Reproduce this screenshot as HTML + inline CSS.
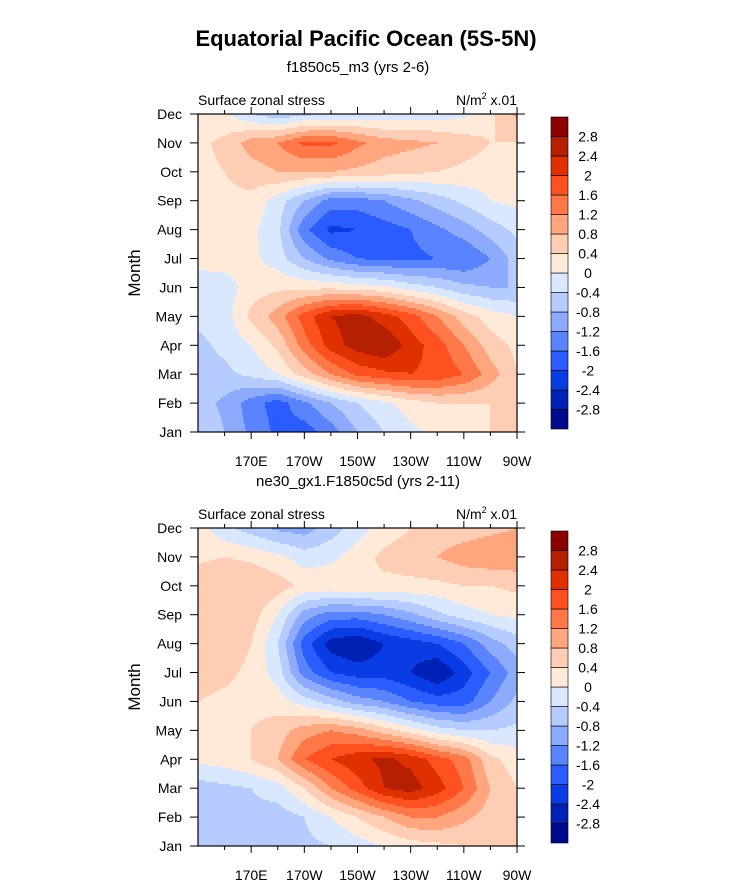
<!DOCTYPE html>
<html><head><meta charset="utf-8">
<style>
body{margin:0;background:#fff;font-family:"Liberation Sans",sans-serif;}
svg text{font-family:"Liberation Sans",sans-serif;fill:#000;}
</style></head>
<body>
<svg id="chart" width="733" height="890" viewBox="0 0 733 890" xmlns="http://www.w3.org/2000/svg">
<text x="366" y="46" text-anchor="middle" font-size="22" font-weight="bold">Equatorial Pacific Ocean (5S-5N)</text>
</svg>
<script>
const months=["Jan","Feb","Mar","Apr","May","Jun","Jul","Aug","Sep","Oct","Nov","Dec"];
const lons=[150,160,170,180,190,200,210,220,230,240,250,260,270];
const xTickLons=[170,190,210,230,250,270];
const xTickLabels=["170E","170W","150W","130W","110W","90W"];
const levels=[-2.8,-2.4,-2,-1.6,-1.2,-0.8,-0.4,0,0.4,0.8,1.2,1.6,2,2.4,2.8];
const levelLabels=["-2.8","-2.4","-2","-1.6","-1.2","-0.8","-0.4","0","0.4","0.8","1.2","1.6","2","2.4","2.8"];
const colors=["#000a8c","#0022b4","#0a3ce6","#2a5cff","#5a84ff","#8cabff","#b6cbff","#d9e8ff","#ffe9d9","#ffcdb4","#ffa67e","#ff7848","#ff5020","#e03000","#b42000","#8b0000"];
// rows Jan..Dec, columns lons
const model1=[
[-0.4,-0.8,-1.3,-1.7,-1.8,-1.4,-0.8,-0.4,-0.1,0.1,0.3,0.4,0.4],
[-0.6,-0.9,-1.4,-1.8,-1.3,-0.8,-0.4,-0.1,0.2,0.4,0.4,0.4,0.4],
[-0.6,-0.5,-0.3,0.0,0.6,1.2,1.7,1.9,2.0,1.9,1.6,1.0,0.4],
[-0.5,-0.3,0.0,0.5,1.4,2.2,2.6,2.8,2.2,1.8,1.2,0.6,0.3],
[-0.3,-0.2,0.5,1.0,1.8,2.4,2.6,2.2,1.8,1.2,0.6,0.2,0.0],
[-0.3,-0.2,0.2,0.3,0.3,0.3,0.2,0.1,-0.2,-0.4,-0.7,-0.8,-0.8],
[0.2,0.2,0.1,-0.2,-0.8,-1.3,-1.6,-1.7,-1.7,-1.6,-1.6,-1.2,-0.6],
[0.2,0.2,0.1,-0.3,-1.5,-2.1,-2.0,-1.8,-1.6,-1.3,-1.0,-0.6,-0.3],
[0.3,0.3,0.3,-0.2,-0.8,-1.4,-1.4,-1.2,-0.9,-0.6,-0.3,0.0,0.1],
[0.3,0.4,0.6,0.8,0.8,0.8,0.7,0.6,0.5,0.4,0.3,0.2,0.2],
[0.3,0.5,1.0,1.2,1.7,1.7,1.3,1.0,0.9,0.8,0.6,0.4,0.4],
[0.2,0.1,-0.4,-0.7,-0.5,-0.4,-0.3,-0.3,-0.2,-0.2,-0.1,0.3,0.9]];
const model2=[
[-0.5,-0.5,-0.5,-0.6,-0.5,-0.4,-0.2,0.0,0.2,0.3,0.4,0.4,0.4],
[-0.5,-0.5,-0.5,-0.6,-0.4,0.0,0.4,0.8,1.2,1.2,0.9,0.6,0.4],
[-0.6,-0.5,-0.4,-0.2,0.4,1.2,1.8,2.4,2.6,2.2,1.6,0.8,0.4],
[0.1,0.2,0.4,0.8,1.6,2.0,2.3,2.5,2.3,1.8,1.4,0.5,0.2],
[0.3,0.3,0.4,0.6,1.0,1.2,1.0,0.6,0.2,-0.2,-0.4,-0.4,-0.3],
[0.4,0.3,0.3,0.2,-0.2,-0.6,-1.0,-1.2,-1.6,-1.8,-1.8,-1.2,-0.7],
[0.6,0.5,0.3,-0.2,-1.4,-2.0,-2.2,-2.2,-2.4,-2.8,-2.2,-1.6,-1.0],
[0.8,0.7,0.4,-0.4,-1.8,-2.6,-2.8,-2.4,-2.2,-2.0,-1.6,-1.0,-0.6],
[0.8,0.8,0.6,0.0,-1.0,-1.4,-1.4,-1.2,-0.9,-0.5,-0.2,0.0,0.1],
[0.7,0.8,0.8,0.6,0.3,0.3,0.4,0.3,0.3,0.3,0.4,0.4,0.5],
[0.3,0.4,0.3,0.1,-0.2,-0.1,0.2,0.5,0.6,0.8,1.0,1.1,1.1],
[0.2,-0.3,-0.6,-0.9,-1.0,-0.6,-0.2,0.2,0.4,0.6,0.6,0.7,0.8]];

const NS="http://www.w3.org/2000/svg";
const svg=document.getElementById('chart');
function mk(tag,attrs,parent){const e=document.createElementNS(NS,tag);for(const k in attrs)e.setAttribute(k,attrs[k]);(parent||svg).appendChild(e);return e;}
function colorFor(v){let i=0;while(i<levels.length&&v>=levels[i])i++;return colors[i];}

function panel(data,top,subtitle,pname){
  const L=198,R=517,T=top,B=top+318;
  const g=mk('g',{});
  
  
  const xs=lon=>L+(lon-lons[0])/(lons[lons.length-1]-lons[0])*(R-L);
  const ys=m=>B-m/(months.length-1)*(B-T);
  const fg=mk('g',{},g);
  
  
  const step=2;
  for(let y=T;y<B;y+=step){
    const m=(B-(y+step/2))/(B-T)*(months.length-1);
    const m0=Math.min(Math.floor(m),months.length-2),fm=m-m0;
    let runStart=L,runCol=null;
    for(let x=L;x<=R;x++){
      let col=null;
      if(x<R){
        const lf=(lons[0]+(x+0.5-L)/(R-L)*(lons[lons.length-1]-lons[0])-lons[0])/10;
        const l0=Math.min(Math.floor(lf),lons.length-2),fl=lf-l0;
        const v=(1-fm)*((1-fl)*data[m0][l0]+fl*data[m0][l0+1])+fm*((1-fl)*data[m0+1][l0]+fl*data[m0+1][l0+1]);
        col=colorFor(v);
      }
      if(col!==runCol){
        if(runCol!==null){
          const r=mk('rect',{x:runStart,y:y,width:x-runStart+0.5,height:step+0.5,fill:runCol},fg);
          
          
        }
        runStart=x;runCol=col;
      }
    }
  }
  const fr=mk('rect',{x:L,y:T,width:R-L,height:B-T,fill:'none',stroke:'#000','stroke-width':1.2},g);
  
  
  for(let lon=lons[0]+10;lon<=270;lon+=10){
    const major=xTickLons.includes(lon);const len=major?7:4;const x=xs(lon);
    mk('line',{x1:x,x2:x,y1:B,y2:B+len,stroke:'#000','stroke-width':1},g);
    mk('line',{x1:x,x2:x,y1:T,y2:T-len,stroke:'#000','stroke-width':1},g);
  }
  xTickLons.forEach((lon,i)=>{
    const t=mk('text',{x:xs(lon),y:B+34,'text-anchor':'middle','font-size':14},g);
    t.textContent=xTickLabels[i];
    
    
  });
  months.forEach((mo,i)=>{
    const y=ys(i);
    mk('line',{x1:L-8,x2:L,y1:y,y2:y,stroke:'#000','stroke-width':1},g);
    mk('line',{x1:R,x2:R+8,y1:y,y2:y,stroke:'#000','stroke-width':1},g);
    const t=mk('text',{x:L-16,y:y+5,'text-anchor':'end','font-size':14},g);
    t.textContent=mo;
    
    
  });
  const yt=mk('text',{x:0,y:0,'text-anchor':'middle','font-size':17,transform:`translate(140,${(T+B)/2}) rotate(-90)`},g);
  yt.textContent='Month';
  
  
  const st=mk('text',{x:358,y:T-42,'text-anchor':'middle','font-size':15},g);
  st.textContent=subtitle;
  
  
  const lt=mk('text',{x:L,y:T-9,'font-size':14},g);
  lt.textContent='Surface zonal stress';
  
  
  const ut=mk('text',{x:R,y:T-9,'text-anchor':'end','font-size':14},g);
  ut.innerHTML='N/m<tspan font-size="9" dy="-6">2</tspan><tspan dy="6"> x.01</tspan>';
  
  
  const cb=mk('g',{},g);
  
  
  const cT=T+3,cB=B-3,cx=551,cw=17,h=(cB-cT)/colors.length;
  colors.forEach((c,i)=>{
    const r=mk('rect',{x:cx,y:cB-(i+1)*h,width:cw,height:h,fill:c,stroke:'#000','stroke-width':0.6},cb);
    
    
  });
  levelLabels.forEach((lab,i)=>{
    const t=mk('text',{x:588,y:cB-(i+1)*h+5,'text-anchor':'middle','font-size':14},cb);
    t.textContent=lab;
    
    
  });
}
panel(model1,114,'f1850c5_m3 (yrs 2-6)','panel-f1850c5-m3');
panel(model2,528,'ne30_gx1.F1850c5d (yrs 2-11)','panel-ne30-gx1');
</script>
</body></html>
